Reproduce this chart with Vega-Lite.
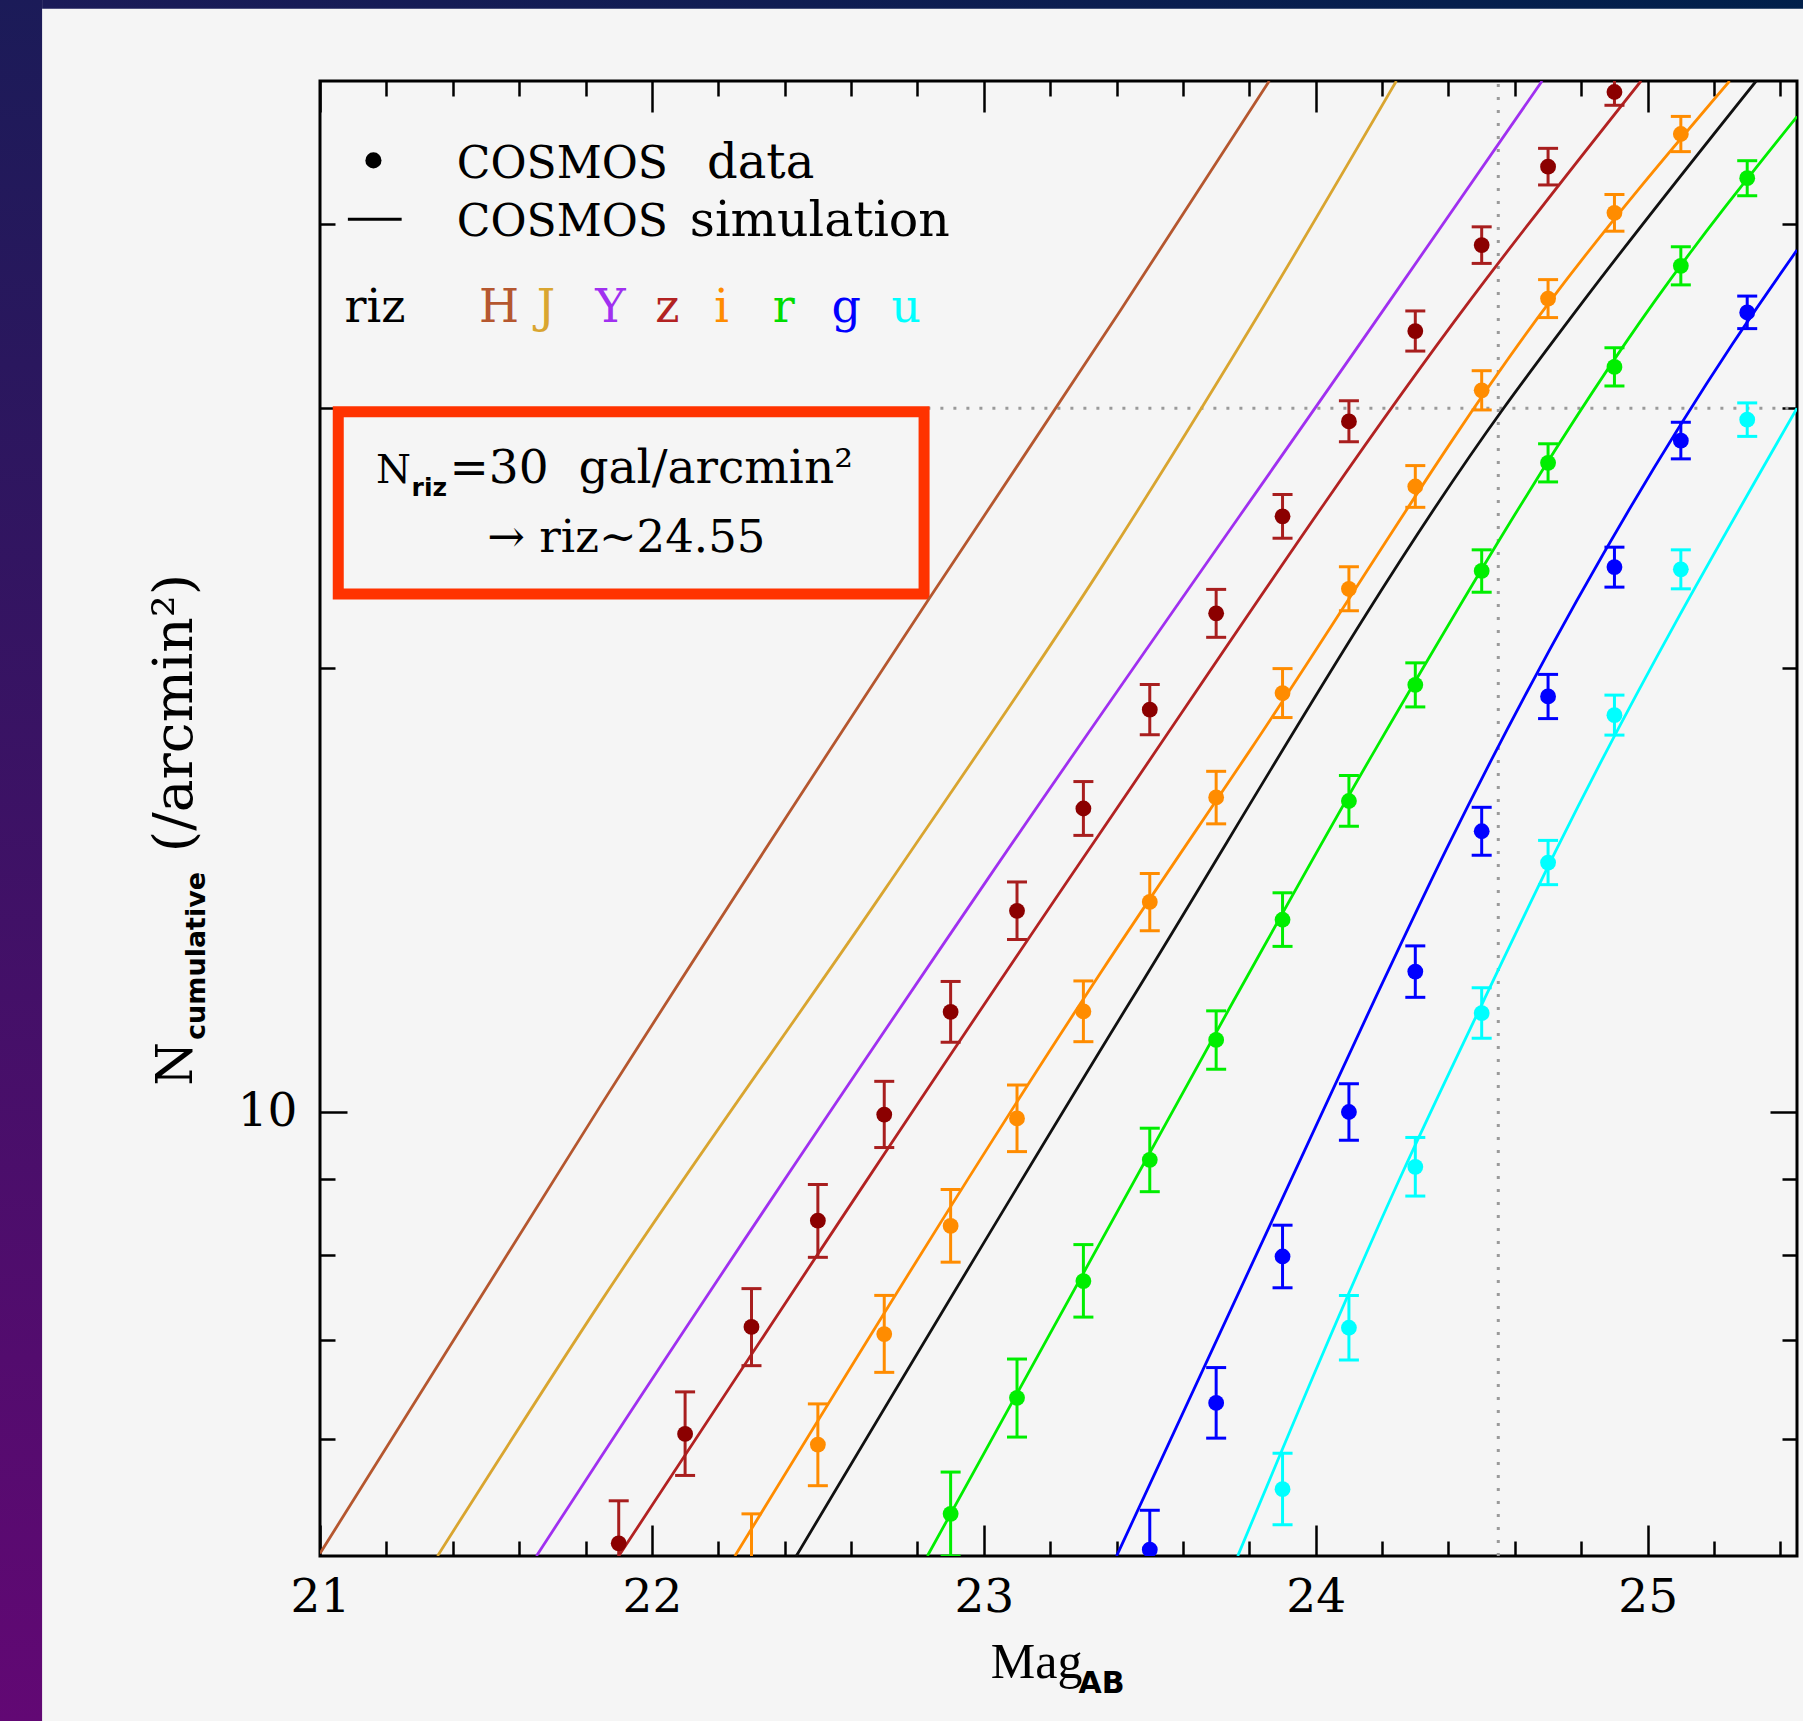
{
  "$schema": "https://vega.github.io/schema/vega-lite/v6.json",
  "width": 1477,
  "height": 1475,
  "autosize": {"type": "none"},
  "padding": {"left": 320, "top": 81, "right": 6, "bottom": 165},
  "background": "#f5f5f5",
  "config": {
    "view": {"stroke": "#000000", "strokeWidth": 3},
    "axis": {"domain": false, "grid": false, "tickColor": "#000000", "tickWidth": 2.5, "labelColor": "#000000"}
  },
  "datasets": {
    "one": [{}],
    "lines": [
      {"band": "H", "m": 21.0, "n": 5.02}, {"band": "H", "m": 21.843, "n": 10.08}, {"band": "H", "m": 22.836, "n": 22.3}, {"band": "H", "m": 23.41, "n": 34.9}, {"band": "H", "m": 23.86, "n": 50.0},
      {"band": "J", "m": 21.354, "n": 5.0}, {"band": "J", "m": 21.843, "n": 7.42}, {"band": "J", "m": 22.706, "n": 14.2}, {"band": "J", "m": 23.349, "n": 23.3}, {"band": "J", "m": 23.847, "n": 35.3}, {"band": "J", "m": 24.243, "n": 50.0},
      {"band": "Y", "m": 21.652, "n": 5.0}, {"band": "Y", "m": 21.843, "n": 5.82}, {"band": "Y", "m": 23.013, "n": 14.4}, {"band": "Y", "m": 24.224, "n": 35.5}, {"band": "Y", "m": 24.682, "n": 50.0},
      {"band": "z", "m": 21.9, "n": 5.0}, {"band": "z", "m": 23.349, "n": 15.44}, {"band": "z", "m": 24.465, "n": 35.5}, {"band": "z", "m": 24.98, "n": 50.0},
      {"band": "i", "m": 22.25, "n": 5.0}, {"band": "i", "m": 23.349, "n": 12.4}, {"band": "i", "m": 23.803, "n": 17.6}, {"band": "i", "m": 24.708, "n": 35.5}, {"band": "i", "m": 25.247, "n": 50.0},
      {"band": "riz", "m": 22.435, "n": 5.0}, {"band": "riz", "m": 23.444, "n": 11.91}, {"band": "riz", "m": 24.566, "n": 30.0}, {"band": "riz", "m": 24.808, "n": 35.5}, {"band": "riz", "m": 25.327, "n": 50.0},
      {"band": "r", "m": 22.83, "n": 5.0}, {"band": "r", "m": 23.753, "n": 11.9}, {"band": "r", "m": 24.179, "n": 17.6}, {"band": "r", "m": 25.023, "n": 35.5}, {"band": "r", "m": 25.45, "n": 47.3},
      {"band": "g", "m": 23.4, "n": 5.0}, {"band": "g", "m": 24.176, "n": 11.9}, {"band": "g", "m": 24.393, "n": 15.06}, {"band": "g", "m": 25.257, "n": 33.2}, {"band": "g", "m": 25.45, "n": 38.4},
      {"band": "u", "m": 23.765, "n": 5.0}, {"band": "u", "m": 24.253, "n": 9.01}, {"band": "u", "m": 24.506, "n": 11.9}, {"band": "u", "m": 24.725, "n": 15.06}, {"band": "u", "m": 25.45, "n": 30.0}
    ],
    "pts": [
      {"band": "z", "m": 21.9, "n": 5.10, "lo": 4.78, "hi": 5.45},
      {"band": "z", "m": 22.1, "n": 6.05, "lo": 5.67, "hi": 6.46},
      {"band": "z", "m": 22.3, "n": 7.15, "lo": 6.73, "hi": 7.59},
      {"band": "z", "m": 22.5, "n": 8.44, "lo": 7.97, "hi": 8.93},
      {"band": "z", "m": 22.7, "n": 9.96, "lo": 9.46, "hi": 10.49},
      {"band": "z", "m": 22.9, "n": 11.69, "lo": 11.15, "hi": 12.26},
      {"band": "z", "m": 23.1, "n": 13.69, "lo": 13.09, "hi": 14.32},
      {"band": "z", "m": 23.3, "n": 16.06, "lo": 15.40, "hi": 16.75},
      {"band": "z", "m": 23.5, "n": 18.74, "lo": 18.02, "hi": 19.49},
      {"band": "z", "m": 23.7, "n": 21.78, "lo": 20.98, "hi": 22.61},
      {"band": "z", "m": 23.9, "n": 25.34, "lo": 24.49, "hi": 26.22},
      {"band": "z", "m": 24.1, "n": 29.39, "lo": 28.47, "hi": 30.35},
      {"band": "z", "m": 24.3, "n": 33.84, "lo": 32.80, "hi": 34.92},
      {"band": "z", "m": 24.5, "n": 38.70, "lo": 37.61, "hi": 39.82},
      {"band": "z", "m": 24.7, "n": 43.74, "lo": 42.51, "hi": 45.01},
      {"band": "z", "m": 24.9, "n": 49.15, "lo": 48.14, "hi": 50.18},
      {"band": "i", "m": 22.3, "n": 4.85, "lo": 4.40, "hi": 5.34},
      {"band": "i", "m": 22.5, "n": 5.95, "lo": 5.58, "hi": 6.34},
      {"band": "i", "m": 22.7, "n": 7.07, "lo": 6.66, "hi": 7.51},
      {"band": "i", "m": 22.9, "n": 8.37, "lo": 7.91, "hi": 8.86},
      {"band": "i", "m": 23.1, "n": 9.90, "lo": 9.40, "hi": 10.43},
      {"band": "i", "m": 23.3, "n": 11.70, "lo": 11.16, "hi": 12.27},
      {"band": "i", "m": 23.5, "n": 13.88, "lo": 13.27, "hi": 14.51},
      {"band": "i", "m": 23.7, "n": 16.34, "lo": 15.68, "hi": 17.02},
      {"band": "i", "m": 23.9, "n": 19.23, "lo": 18.51, "hi": 19.98},
      {"band": "i", "m": 24.1, "n": 22.63, "lo": 21.87, "hi": 23.42},
      {"band": "i", "m": 24.3, "n": 26.55, "lo": 25.70, "hi": 27.43},
      {"band": "i", "m": 24.5, "n": 30.85, "lo": 29.92, "hi": 31.81},
      {"band": "i", "m": 24.7, "n": 35.60, "lo": 34.56, "hi": 36.67},
      {"band": "i", "m": 24.9, "n": 40.70, "lo": 39.55, "hi": 41.88},
      {"band": "i", "m": 25.1, "n": 46.03, "lo": 44.78, "hi": 47.31},
      {"band": "r", "m": 22.9, "n": 5.34, "lo": 5.00, "hi": 5.70},
      {"band": "r", "m": 23.1, "n": 6.40, "lo": 6.02, "hi": 6.80},
      {"band": "r", "m": 23.3, "n": 7.68, "lo": 7.26, "hi": 8.13},
      {"band": "r", "m": 23.5, "n": 9.28, "lo": 8.83, "hi": 9.75},
      {"band": "r", "m": 23.7, "n": 11.19, "lo": 10.69, "hi": 11.71},
      {"band": "r", "m": 23.9, "n": 13.50, "lo": 12.95, "hi": 14.08},
      {"band": "r", "m": 24.1, "n": 16.25, "lo": 15.62, "hi": 16.91},
      {"band": "r", "m": 24.3, "n": 19.48, "lo": 18.82, "hi": 20.16},
      {"band": "r", "m": 24.5, "n": 23.27, "lo": 22.51, "hi": 24.05},
      {"band": "r", "m": 24.7, "n": 27.55, "lo": 26.74, "hi": 28.38},
      {"band": "r", "m": 24.9, "n": 32.00, "lo": 31.06, "hi": 32.97},
      {"band": "r", "m": 25.1, "n": 37.47, "lo": 36.37, "hi": 38.60},
      {"band": "r", "m": 25.3, "n": 42.96, "lo": 41.80, "hi": 44.15},
      {"band": "g", "m": 23.5, "n": 5.05, "lo": 4.75, "hi": 5.37},
      {"band": "g", "m": 23.7, "n": 6.35, "lo": 6.01, "hi": 6.71},
      {"band": "g", "m": 23.9, "n": 7.98, "lo": 7.60, "hi": 8.38},
      {"band": "g", "m": 24.1, "n": 10.00, "lo": 9.57, "hi": 10.45},
      {"band": "g", "m": 24.3, "n": 12.45, "lo": 11.96, "hi": 12.96},
      {"band": "g", "m": 24.5, "n": 15.50, "lo": 14.93, "hi": 16.09},
      {"band": "g", "m": 24.7, "n": 19.13, "lo": 18.48, "hi": 19.80},
      {"band": "g", "m": 24.9, "n": 23.41, "lo": 22.69, "hi": 24.15},
      {"band": "g", "m": 25.1, "n": 28.52, "lo": 27.72, "hi": 29.35},
      {"band": "g", "m": 25.3, "n": 34.84, "lo": 33.97, "hi": 35.74},
      {"band": "u", "m": 23.9, "n": 5.55, "lo": 5.25, "hi": 5.87},
      {"band": "u", "m": 24.1, "n": 7.14, "lo": 6.79, "hi": 7.51},
      {"band": "u", "m": 24.3, "n": 9.18, "lo": 8.77, "hi": 9.61},
      {"band": "u", "m": 24.5, "n": 11.67, "lo": 11.22, "hi": 12.14},
      {"band": "u", "m": 24.7, "n": 14.76, "lo": 14.26, "hi": 15.28},
      {"band": "u", "m": 24.9, "n": 18.58, "lo": 18.01, "hi": 19.17},
      {"band": "u", "m": 25.1, "n": 23.33, "lo": 22.63, "hi": 24.05},
      {"band": "u", "m": 25.3, "n": 29.47, "lo": 28.71, "hi": 30.25}
    ],
    "keyletters": [
      {"band": "H", "m": 21.479}, {"band": "J", "m": 21.653}, {"band": "Y", "m": 21.829}, {"band": "z", "m": 22.01},
      {"band": "i", "m": 22.188}, {"band": "r", "m": 22.364}, {"band": "g", "m": 22.541}, {"band": "u", "m": 22.721}
    ]
  },
  "layer": [
    {
      "data": {"name": "one"},
      "mark": {"type": "rect", "color": {"gradient": "linear", "x1": 0, "y1": 0, "x2": 0, "y2": 1, "stops": [{"offset": 0, "color": "#1b1b58"}, {"offset": 1, "color": "#620874"}]}},
      "encoding": {
        "x": {"datum": 19.9, "type": "quantitative", "scale": {"domain": [21, 25.45], "nice": false, "zero": false}, "axis": null},
        "x2": {"datum": 20.1627},
        "y": {"datum": 3.86, "type": "quantitative", "scale": {"type": "log", "domain": [5, 50], "nice": false}, "axis": null},
        "y2": {"datum": 56.8}
      }
    },
    {
      "data": {"name": "one"},
      "mark": {"type": "rect", "color": {"gradient": "linear", "x1": 0, "y1": 0, "x2": 1, "y2": 0, "stops": [{"offset": 0, "color": "#1b1b58"}, {"offset": 1, "color": "#00204a"}]}},
      "encoding": {
        "x": {"datum": 20.1627, "type": "quantitative", "scale": {"domain": [21, 25.45], "nice": false, "zero": false}, "axis": null},
        "x2": {"datum": 25.6},
        "y": {"datum": 55.96, "type": "quantitative", "scale": {"type": "log", "domain": [5, 50], "nice": false}, "axis": null},
        "y2": {"datum": 56.8}
      }
    },
    {
      "data": {"name": "one"},
      "mark": {"type": "rule", "color": "#9a9a9a", "strokeWidth": 3, "strokeDash": [3, 10]},
      "encoding": {
        "x": {"datum": 24.55, "type": "quantitative", "scale": {"domain": [21, 25.45], "nice": false, "zero": false}, "axis": null},
        "y": {"datum": 5, "type": "quantitative", "scale": {"type": "log", "domain": [5, 50], "nice": false}, "axis": null},
        "y2": {"datum": 50}
      }
    },
    {
      "data": {"name": "one"},
      "mark": {"type": "rule", "color": "#9a9a9a", "strokeWidth": 3, "strokeDash": [3, 10]},
      "encoding": {
        "x": {"datum": 22.83, "type": "quantitative", "scale": {"domain": [21, 25.45], "nice": false, "zero": false}, "axis": null},
        "x2": {"datum": 25.45},
        "y": {"datum": 30, "type": "quantitative", "scale": {"type": "log", "domain": [5, 50], "nice": false}, "axis": null}
      }
    },
    {
      "data": {"name": "one"},
      "mark": {"type": "rect", "fill": null, "fillOpacity": 0, "stroke": "#ff3300", "strokeWidth": 11},
      "encoding": {
        "x": {"datum": 21.055, "type": "quantitative", "scale": {"domain": [21, 25.45], "nice": false, "zero": false}, "axis": null},
        "x2": {"datum": 22.82},
        "y": {"datum": 22.45, "type": "quantitative", "scale": {"type": "log", "domain": [5, 50], "nice": false}, "axis": null},
        "y2": {"datum": 29.83}
      }
    },
    {
      "data": {"name": "lines"},
      "mark": {"type": "line", "clip": true, "strokeWidth": 2.8, "interpolate": "monotone"},
      "encoding": {
        "x": {"field": "m", "type": "quantitative", "scale": {"domain": [21, 25.45], "nice": false, "zero": false}, "axis": null},
        "y": {"field": "n", "type": "quantitative", "scale": {"type": "log", "domain": [5, 50], "nice": false}, "axis": null},
        "color": {"field": "band", "type": "nominal", "legend": null, "scale": {"domain": ["H", "J", "Y", "z", "i", "riz", "r", "g", "u"], "range": ["#b5572f", "#d9a530", "#a030f0", "#b22222", "#ff8c00", "#111111", "#00ee00", "#0000ff", "#00ffff"]}},
        "detail": {"field": "band"}
      }
    },
    {
      "data": {"name": "pts"},
      "mark": {"type": "rule", "clip": true, "strokeWidth": 3},
      "encoding": {
        "x": {"field": "m", "type": "quantitative", "scale": {"domain": [21, 25.45], "nice": false, "zero": false}, "axis": null},
        "y": {"field": "lo", "type": "quantitative", "scale": {"type": "log", "domain": [5, 50], "nice": false}, "axis": null},
        "y2": {"field": "hi"},
        "color": {"field": "band", "type": "nominal", "legend": null, "scale": {"domain": ["z", "i", "r", "g", "u"], "range": ["#a81e1e", "#ff8c00", "#00ee00", "#0000ff", "#00ffff"]}}
      }
    },
    {
      "data": {"name": "pts"},
      "mark": {"type": "tick", "clip": true, "orient": "horizontal", "size": 20, "thickness": 3, "opacity": 1},
      "encoding": {
        "x": {"field": "m", "type": "quantitative", "scale": {"domain": [21, 25.45], "nice": false, "zero": false}, "axis": null},
        "y": {"field": "lo", "type": "quantitative", "scale": {"type": "log", "domain": [5, 50], "nice": false}, "axis": null},
        "color": {"field": "band", "type": "nominal", "legend": null, "scale": {"domain": ["z", "i", "r", "g", "u"], "range": ["#a81e1e", "#ff8c00", "#00ee00", "#0000ff", "#00ffff"]}}
      }
    },
    {
      "data": {"name": "pts"},
      "mark": {"type": "tick", "clip": true, "orient": "horizontal", "size": 20, "thickness": 3, "opacity": 1},
      "encoding": {
        "x": {"field": "m", "type": "quantitative", "scale": {"domain": [21, 25.45], "nice": false, "zero": false}, "axis": null},
        "y": {"field": "hi", "type": "quantitative", "scale": {"type": "log", "domain": [5, 50], "nice": false}, "axis": null},
        "color": {"field": "band", "type": "nominal", "legend": null, "scale": {"domain": ["z", "i", "r", "g", "u"], "range": ["#a81e1e", "#ff8c00", "#00ee00", "#0000ff", "#00ffff"]}}
      }
    },
    {
      "data": {"name": "pts"},
      "mark": {"type": "circle", "clip": true, "size": 250, "opacity": 1},
      "encoding": {
        "x": {"field": "m", "type": "quantitative", "scale": {"domain": [21, 25.45], "nice": false, "zero": false}, "axis": null},
        "y": {"field": "n", "type": "quantitative", "scale": {"type": "log", "domain": [5, 50], "nice": false}, "axis": null},
        "color": {"field": "band", "type": "nominal", "legend": null, "scale": {"domain": ["z", "i", "r", "g", "u"], "range": ["#8b0000", "#ff8c00", "#00ee00", "#0000ff", "#00ffff"]}}
      }
    },
    {
      "data": {"name": "one"},
      "mark": {"type": "circle", "size": 260, "color": "#000000", "opacity": 1},
      "encoding": {
        "x": {"datum": 21.161, "type": "quantitative", "scale": {"domain": [21, 25.45], "nice": false, "zero": false}, "axis": null},
        "y": {"datum": 44.17, "type": "quantitative", "scale": {"type": "log", "domain": [5, 50], "nice": false}, "axis": null}
      }
    },
    {
      "data": {"name": "one"},
      "mark": {"type": "rule", "color": "#000000", "strokeWidth": 3},
      "encoding": {
        "x": {"datum": 21.084, "type": "quantitative", "scale": {"domain": [21, 25.45], "nice": false, "zero": false}, "axis": null},
        "x2": {"datum": 21.246},
        "y": {"datum": 40.3, "type": "quantitative", "scale": {"type": "log", "domain": [5, 50], "nice": false}, "axis": null}
      }
    },
    {
      "data": {"name": "one"},
      "mark": {"type": "text", "text": "COSMOS", "font": "DejaVu Serif", "fontSize": 44, "align": "left", "baseline": "alphabetic", "color": "#000000"},
      "encoding": {
        "x": {"datum": 21.412, "type": "quantitative", "scale": {"domain": [21, 25.45], "nice": false, "zero": false}, "axis": null},
        "y": {"datum": 42.98, "type": "quantitative", "scale": {"type": "log", "domain": [5, 50], "nice": false}, "axis": null}
      }
    },
    {
      "data": {"name": "one"},
      "mark": {"type": "text", "text": "data", "font": "DejaVu Serif", "fontSize": 48, "align": "left", "baseline": "alphabetic", "color": "#000000"},
      "encoding": {
        "x": {"datum": 22.166, "type": "quantitative", "scale": {"domain": [21, 25.45], "nice": false, "zero": false}, "axis": null},
        "y": {"datum": 42.98, "type": "quantitative", "scale": {"type": "log", "domain": [5, 50], "nice": false}, "axis": null}
      }
    },
    {
      "data": {"name": "one"},
      "mark": {"type": "text", "text": "COSMOS", "font": "DejaVu Serif", "fontSize": 44, "align": "left", "baseline": "alphabetic", "color": "#000000"},
      "encoding": {
        "x": {"datum": 21.412, "type": "quantitative", "scale": {"domain": [21, 25.45], "nice": false, "zero": false}, "axis": null},
        "y": {"datum": 39.28, "type": "quantitative", "scale": {"type": "log", "domain": [5, 50], "nice": false}, "axis": null}
      }
    },
    {
      "data": {"name": "one"},
      "mark": {"type": "text", "text": "simulation", "font": "DejaVu Serif", "fontSize": 49, "align": "left", "baseline": "alphabetic", "color": "#000000"},
      "encoding": {
        "x": {"datum": 22.114, "type": "quantitative", "scale": {"domain": [21, 25.45], "nice": false, "zero": false}, "axis": null},
        "y": {"datum": 39.28, "type": "quantitative", "scale": {"type": "log", "domain": [5, 50], "nice": false}, "axis": null}
      }
    },
    {
      "data": {"name": "one"},
      "mark": {"type": "text", "text": "riz", "font": "DejaVu Serif", "fontSize": 46, "align": "left", "baseline": "alphabetic", "color": "#000000"},
      "encoding": {
        "x": {"datum": 21.074, "type": "quantitative", "scale": {"domain": [21, 25.45], "nice": false, "zero": false}, "axis": null},
        "y": {"datum": 34.31, "type": "quantitative", "scale": {"type": "log", "domain": [5, 50], "nice": false}, "axis": null}
      }
    },
    {
      "data": {"name": "keyletters"},
      "mark": {"type": "text", "font": "DejaVu Serif", "fontSize": 46, "align": "left", "baseline": "alphabetic"},
      "encoding": {
        "x": {"field": "m", "type": "quantitative", "scale": {"domain": [21, 25.45], "nice": false, "zero": false}, "axis": null},
        "y": {"datum": 34.31, "type": "quantitative", "scale": {"type": "log", "domain": [5, 50], "nice": false}, "axis": null},
        "text": {"field": "band"},
        "color": {"field": "band", "type": "nominal", "legend": null, "scale": {"domain": ["H", "J", "Y", "z", "i", "riz", "r", "g", "u"], "range": ["#b5572f", "#d9a530", "#a030f0", "#b22222", "#ff8c00", "#111111", "#00dd00", "#0000ff", "#00ffff"]}}
      }
    },
    {
      "data": {"name": "one"},
      "mark": {"type": "text", "text": "N", "font": "DejaVu Serif", "fontSize": 40, "align": "left", "baseline": "alphabetic", "color": "#000000"},
      "encoding": {
        "x": {"datum": 21.169, "type": "quantitative", "scale": {"domain": [21, 25.45], "nice": false, "zero": false}, "axis": null},
        "y": {"datum": 26.7, "type": "quantitative", "scale": {"type": "log", "domain": [5, 50], "nice": false}, "axis": null}
      }
    },
    {
      "data": {"name": "one"},
      "mark": {"type": "text", "text": "riz", "font": "DejaVu Sans", "fontWeight": "bold", "fontSize": 25, "align": "left", "baseline": "alphabetic", "color": "#000000"},
      "encoding": {
        "x": {"datum": 21.276, "type": "quantitative", "scale": {"domain": [21, 25.45], "nice": false, "zero": false}, "axis": null},
        "y": {"datum": 26.17, "type": "quantitative", "scale": {"type": "log", "domain": [5, 50], "nice": false}, "axis": null}
      }
    },
    {
      "data": {"name": "one"},
      "mark": {"type": "text", "text": "=30\u00a0\u00a0gal/arcmin²", "font": "DejaVu Serif", "fontSize": 47, "align": "left", "baseline": "alphabetic", "color": "#000000"},
      "encoding": {
        "x": {"datum": 21.39, "type": "quantitative", "scale": {"domain": [21, 25.45], "nice": false, "zero": false}, "axis": null},
        "y": {"datum": 26.7, "type": "quantitative", "scale": {"type": "log", "domain": [5, 50], "nice": false}, "axis": null}
      }
    },
    {
      "data": {"name": "one"},
      "mark": {"type": "text", "text": "→\u00a0riz~24.55", "font": "DejaVu Serif", "fontSize": 45, "align": "left", "baseline": "alphabetic", "color": "#000000"},
      "encoding": {
        "x": {"datum": 21.504, "type": "quantitative", "scale": {"domain": [21, 25.45], "nice": false, "zero": false}, "axis": null},
        "y": {"datum": 23.96, "type": "quantitative", "scale": {"type": "log", "domain": [5, 50], "nice": false}, "axis": null}
      }
    },
    {
      "data": {"name": "one"},
      "mark": {"type": "text", "text": "N", "font": "DejaVu Serif", "fontSize": 50, "angle": 270, "align": "left", "baseline": "alphabetic", "color": "#000000"},
      "encoding": {
        "x": {"datum": 20.6136, "type": "quantitative", "scale": {"domain": [21, 25.45], "nice": false, "zero": false}, "axis": null},
        "y": {"datum": 10.42, "type": "quantitative", "scale": {"type": "log", "domain": [5, 50], "nice": false}, "axis": null}
      }
    },
    {
      "data": {"name": "one"},
      "mark": {"type": "text", "text": "cumulative", "font": "DejaVu Sans", "fontWeight": "bold", "fontSize": 27, "angle": 270, "align": "left", "baseline": "alphabetic", "color": "#000000"},
      "encoding": {
        "x": {"datum": 20.6536, "type": "quantitative", "scale": {"domain": [21, 25.45], "nice": false, "zero": false}, "axis": null},
        "y": {"datum": 11.19, "type": "quantitative", "scale": {"type": "log", "domain": [5, 50], "nice": false}, "axis": null}
      }
    },
    {
      "data": {"name": "one"},
      "mark": {"type": "text", "text": "(/arcmin²)", "font": "DejaVu Serif", "fontSize": 55, "angle": 270, "align": "left", "baseline": "alphabetic", "color": "#000000"},
      "encoding": {
        "x": {"datum": 20.6136, "type": "quantitative", "scale": {"domain": [21, 25.45], "nice": false, "zero": false}, "axis": null},
        "y": {"datum": 15.0, "type": "quantitative", "scale": {"type": "log", "domain": [5, 50], "nice": false}, "axis": null}
      }
    },
    {
      "data": {"name": "one"},
      "mark": {"type": "text", "text": "Mag", "font": "Liberation Serif", "fontSize": 50, "align": "left", "baseline": "alphabetic", "color": "#000000"},
      "encoding": {
        "x": {"datum": 23.021, "type": "quantitative", "scale": {"domain": [21, 25.45], "nice": false, "zero": false}, "axis": null},
        "y": {"datum": 4.13, "type": "quantitative", "scale": {"type": "log", "domain": [5, 50], "nice": false}, "axis": null}
      }
    },
    {
      "data": {"name": "one"},
      "mark": {"type": "text", "text": "AB", "font": "DejaVu Sans", "fontWeight": "bold", "fontSize": 30, "align": "left", "baseline": "alphabetic", "color": "#000000"},
      "encoding": {
        "x": {"datum": 23.285, "type": "quantitative", "scale": {"domain": [21, 25.45], "nice": false, "zero": false}, "axis": null},
        "y": {"datum": 4.04, "type": "quantitative", "scale": {"type": "log", "domain": [5, 50], "nice": false}, "axis": null}
      }
    },
    {
      "data": {"name": "lines"},
      "mark": {"type": "point", "opacity": 0, "size": 0},
      "encoding": {
        "x": {"field": "m", "type": "quantitative", "scale": {"domain": [21, 25.45], "nice": false, "zero": false}, "axis": {"orient": "bottom", "values": [21, 22, 23, 24, 25], "format": "d", "tickSize": -31, "labelFont": "DejaVu Serif", "labelFontSize": 47, "labelPadding": 49, "labelFlush": false, "title": null}},
        "y": {"field": "n", "type": "quantitative", "scale": {"type": "log", "domain": [5, 50], "nice": false}, "axis": {"orient": "left", "values": [10], "format": "d", "tickSize": -27, "labelFont": "DejaVu Serif", "labelFontSize": 47, "labelPadding": 50, "labelFlush": false, "title": null}}
      }
    },
    {
      "data": {"name": "lines"},
      "mark": {"type": "point", "opacity": 0, "size": 0},
      "encoding": {
        "x": {"field": "m", "type": "quantitative", "scale": {"domain": [21, 25.45], "nice": false, "zero": false}, "axis": {"orient": "bottom", "values": [21.2, 21.4, 21.6, 21.8, 22.2, 22.4, 22.6, 22.8, 23.2, 23.4, 23.6, 23.8, 24.2, 24.4, 24.6, 24.8, 25.2, 25.4], "tickSize": -15, "labels": false, "title": null}},
        "y": {"field": "n", "type": "quantitative", "scale": {"type": "log", "domain": [5, 50], "nice": false}, "axis": {"orient": "left", "values": [6, 7, 8, 9, 20, 30, 40], "tickSize": -15, "labels": false, "title": null}}
      }
    },
    {
      "data": {"name": "lines"},
      "mark": {"type": "point", "opacity": 0, "size": 0},
      "encoding": {
        "x": {"field": "m", "type": "quantitative", "scale": {"domain": [21, 25.45], "nice": false, "zero": false}, "axis": {"orient": "top", "values": [21, 22, 23, 24, 25], "tickSize": -31, "labels": false, "title": null}},
        "y": {"field": "n", "type": "quantitative", "scale": {"type": "log", "domain": [5, 50], "nice": false}, "axis": {"orient": "right", "values": [10], "tickSize": -27, "labels": false, "title": null}}
      }
    },
    {
      "data": {"name": "lines"},
      "mark": {"type": "point", "opacity": 0, "size": 0},
      "encoding": {
        "x": {"field": "m", "type": "quantitative", "scale": {"domain": [21, 25.45], "nice": false, "zero": false}, "axis": {"orient": "top", "values": [21.2, 21.4, 21.6, 21.8, 22.2, 22.4, 22.6, 22.8, 23.2, 23.4, 23.6, 23.8, 24.2, 24.4, 24.6, 24.8, 25.2, 25.4], "tickSize": -15, "labels": false, "title": null}},
        "y": {"field": "n", "type": "quantitative", "scale": {"type": "log", "domain": [5, 50], "nice": false}, "axis": {"orient": "right", "values": [6, 7, 8, 9, 20, 30, 40], "tickSize": -15, "labels": false, "title": null}}
      }
    }
  ],
  "resolve": {"axis": {"x": "independent", "y": "independent"}, "scale": {"color": "independent"}}
}
